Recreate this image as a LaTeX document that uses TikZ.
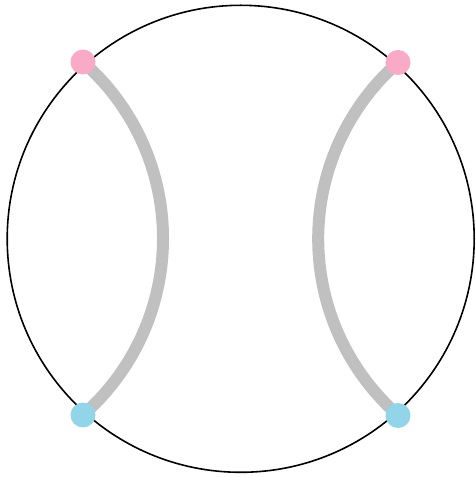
\documentclass[tikz,border=0pt]{standalone}
\definecolor{dotpink}{RGB}{249,170,198}
\definecolor{dotblue}{RGB}{146,213,233}
\definecolor{seam}{RGB}{192,192,192}
\begin{document}
\begin{tikzpicture}[x=1pt,y=1pt,
  dot/.style={circle,inner sep=0pt,minimum size=24pt},
  rim/.style={draw=black,line width=1.6pt},
  seamline/.style={draw=seam,line width=12pt}]
\useasboundingbox (0,0) rectangle (476,477);
\fill[white] (0,0) rectangle (476,477);
\coordinate (c) at (240.7,238.2);
\draw[rim] (c) circle[radius=233.5];
\node[dot] (tl) at (83,415) {};
\node[dot] (bl) at (83,62) {};
\node[dot] (tr) at (398,414.5) {};
\node[dot] (br) at (398,61.5) {};
\draw[seamline] (tl.center) arc[start angle=48.77,end angle=-48.77,radius=234.7];
\draw[seamline] (tr.center) arc[start angle=131.3,end angle=228.7,radius=234.7];
\fill[dotpink] (tl) circle[radius=12.5];
\fill[dotpink] (tr) circle[radius=12.5];
\fill[dotblue] (bl) circle[radius=12.5];
\fill[dotblue] (br) circle[radius=12.5];
\end{tikzpicture}
\end{document}
